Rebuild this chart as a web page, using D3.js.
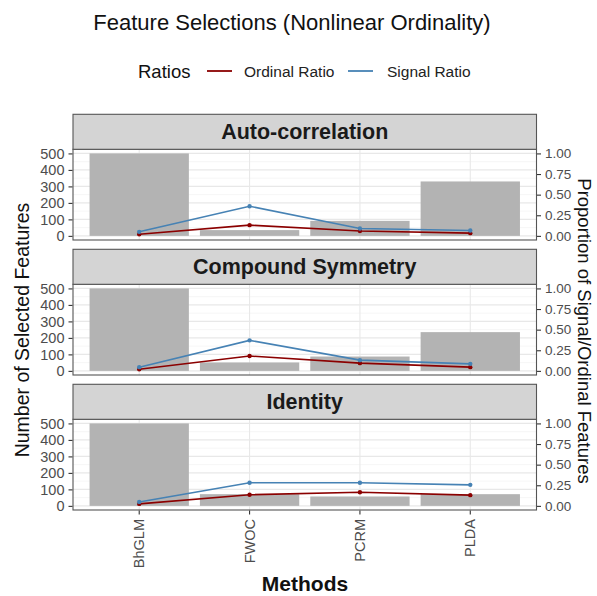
<!DOCTYPE html>
<html>
<head>
<meta charset="utf-8">
<script src="https://cdn.jsdelivr.net/npm/d3@7"></script>
<style>
  html, body { margin: 0; padding: 0; background: #fff; }
  svg { display: block; font-family: "Liberation Sans", Arial, Helvetica, sans-serif; }
</style>
</head>
<body>
<svg id="chart" width="597" height="596"></svg>
<script>
// Methods compared on the x axis
const methods = ["BhGLM", "FWOC", "PCRM", "PLDA"];
// Covariance structures, one facet each
const structures = ["Auto-correlation", "Compound Symmetry", "Identity"];
// Number of selected features (bars), per structure
const selectedCounts = [
  [500, 35, 91, 330],
  [500, 51, 87, 235],
  [500, 71, 57, 71]
];
// Proportion of signal features among the selected ones
const signalRatio = [
  [0.049, 0.36, 0.09, 0.065],
  [0.045, 0.37, 0.13, 0.085],
  [0.048, 0.28, 0.28, 0.255]
];
// Proportion of ordinal features among the selected ones
const ordinalRatio = [
  [0.02, 0.13, 0.06, 0.033],
  [0.02, 0.18, 0.094, 0.045],
  [0.024, 0.135, 0.165, 0.13]
];
const countTicks = [0, 100, 200, 300, 400, 500];
const countMinorTicks = [50, 150, 250, 350, 450];
const ratioTicks = [0, 0.25, 0.5, 0.75, 1];
const seriesNames = ["Ordinal Ratio", "Signal Ratio"];
const seriesColors = ["#8b0000", "#4682b4"];
const ratioScaleFactor = 500; // secondary axis: ratio * 500 on the count axis

const svg = d3.select("#chart");

const panelLeft = 73, panelRight = 536.5;
const plotHeight = 90.7, stripHeight = 35, facetStep = 135, firstPlotTop = 149.3;
const tickFont = 14.5, rightTickFont = 13.5;

const x = d3.scaleBand()
  .domain(methods)
  .range([panelLeft, panelRight])
  .paddingInner(0.1)
  .paddingOuter(0.15);
const xc = m => x(m) + x.bandwidth() / 2;

// Title
svg.append("text")
  .attr("x", 292).attr("y", 30)
  .attr("text-anchor", "middle")
  .attr("font-size", 22).attr("fill", "#111")
  .text("Feature Selections (Nonlinear Ordinality)");

// Legend
const legend = svg.append("g");
legend.append("text")
  .attr("x", 138).attr("y", 77.5)
  .attr("font-size", 18.5).attr("fill", "#111")
  .text("Ratios");
const legendItems = [
  { lx: 207, tx: 244 },
  { lx: 348, tx: 387 }
];
seriesNames.forEach((name, i) => {
  legend.append("line")
    .attr("x1", legendItems[i].lx).attr("x2", legendItems[i].lx + 25)
    .attr("y1", 71).attr("y2", 71)
    .attr("stroke", seriesColors[i]).attr("stroke-width", 1.8);
  legend.append("text")
    .attr("x", legendItems[i].tx).attr("y", 76.5)
    .attr("font-size", 15.5).attr("fill", "#222")
    .text(name);
});

structures.forEach((structure, si) => {
  const top = firstPlotTop + si * facetStep;
  const bottom = top + plotHeight;
  const y = d3.scaleLinear().domain([-25, 525]).range([bottom, top]);
  const g = svg.append("g");

  // panel background + grid
  g.append("rect")
    .attr("x", panelLeft).attr("y", top)
    .attr("width", panelRight - panelLeft).attr("height", plotHeight)
    .attr("fill", "#fff");
  g.selectAll(".minor").data(countMinorTicks).join("line")
    .attr("x1", panelLeft).attr("x2", panelRight)
    .attr("y1", d => y(d)).attr("y2", d => y(d))
    .attr("stroke", "#f0f0f0").attr("stroke-width", 0.6);
  g.selectAll(".major").data(countTicks).join("line")
    .attr("x1", panelLeft).attr("x2", panelRight)
    .attr("y1", d => y(d)).attr("y2", d => y(d))
    .attr("stroke", "#e8e8e8").attr("stroke-width", 1.1);
  g.selectAll(".vgrid").data(methods).join("line")
    .attr("x1", d => xc(d)).attr("x2", d => xc(d))
    .attr("y1", top).attr("y2", bottom)
    .attr("stroke", "#e8e8e8").attr("stroke-width", 1.1);

  // bars
  g.selectAll(".bar").data(methods).join("rect")
    .attr("x", d => x(d))
    .attr("width", x.bandwidth())
    .attr("y", (d, i) => y(selectedCounts[si][i]))
    .attr("height", (d, i) => y(0) - y(selectedCounts[si][i]))
    .attr("fill", "#b3b3b3");

  // ratio lines (secondary axis)
  [ordinalRatio, signalRatio].forEach((series, k) => {
    const pts = methods.map((m, i) => [xc(m), y(series[si][i] * ratioScaleFactor)]);
    g.append("path")
      .attr("d", d3.line()(pts))
      .attr("fill", "none")
      .attr("stroke", seriesColors[k]).attr("stroke-width", 1.6);
    g.selectAll(null).data(pts).join("circle")
      .attr("cx", d => d[0]).attr("cy", d => d[1])
      .attr("r", 2.2).attr("fill", seriesColors[k]);
  });

  // panel border
  g.append("rect")
    .attr("x", panelLeft).attr("y", top)
    .attr("width", panelRight - panelLeft).attr("height", plotHeight)
    .attr("fill", "none").attr("stroke", "#555").attr("stroke-width", 1.1);

  // strip
  g.append("rect")
    .attr("x", panelLeft).attr("y", top - stripHeight)
    .attr("width", panelRight - panelLeft).attr("height", stripHeight)
    .attr("fill", "#d4d4d4").attr("stroke", "#555").attr("stroke-width", 1.1);
  g.append("text")
    .attr("x", (panelLeft + panelRight) / 2).attr("y", top - stripHeight / 2 + 7.5)
    .attr("text-anchor", "middle")
    .attr("font-size", 21.5).attr("font-weight", "bold").attr("fill", "#1a1a1a")
    .text(structure);

  // left axis
  const leftAxis = d3.axisLeft(y).tickValues(countTicks).tickSize(4).tickPadding(4);
  const la = g.append("g").attr("transform", `translate(${panelLeft - 0.5},0)`).call(leftAxis);
  la.select(".domain").remove();
  la.selectAll(".tick line").attr("stroke", "#333").attr("stroke-width", 1.1);
  la.selectAll(".tick text").attr("font-size", tickFont).attr("fill", "#4d4d4d")
    .attr("font-family", "Liberation Sans, Arial, sans-serif");

  // right axis (ratio)
  const yr = d3.scaleLinear().domain([-25 / ratioScaleFactor, 525 / ratioScaleFactor]).range([bottom, top]);
  const rightAxis = d3.axisRight(yr).tickValues(ratioTicks).tickFormat(d3.format(".2f")).tickSize(4).tickPadding(4);
  const ra = g.append("g").attr("transform", `translate(${panelRight + 0.5},0)`).call(rightAxis);
  ra.select(".domain").remove();
  ra.selectAll(".tick line").attr("stroke", "#333").attr("stroke-width", 1.1);
  ra.selectAll(".tick text").attr("font-size", rightTickFont).attr("fill", "#4d4d4d")
    .attr("font-family", "Liberation Sans, Arial, sans-serif");

  // bottom axis on the last facet
  if (si === structures.length - 1) {
    const bottomAxis = d3.axisBottom(x).tickSize(4).tickPadding(3);
    const ba = g.append("g").attr("transform", `translate(0,${bottom + 0.5})`).call(bottomAxis);
    ba.select(".domain").remove();
    ba.selectAll(".tick line").attr("stroke", "#333").attr("stroke-width", 1.1);
    ba.selectAll(".tick text")
      .attr("font-size", tickFont).attr("fill", "#4d4d4d")
      .attr("font-family", "Liberation Sans, Arial, sans-serif")
      .attr("transform", "rotate(-90)")
      .attr("text-anchor", "end")
      .attr("x", -8.5).attr("y", 0).attr("dy", "0.35em");
  }
});

// Axis titles
svg.append("text")
  .attr("transform", "translate(29,330) rotate(-90)")
  .attr("text-anchor", "middle")
  .attr("font-size", 19.5).attr("fill", "#111")
  .text("Number of Selected Features");
svg.append("text")
  .attr("transform", "translate(578,331) rotate(90)")
  .attr("text-anchor", "middle")
  .attr("font-size", 18.5).attr("fill", "#111")
  .text("Proportion of Signal/Ordinal Features");
svg.append("text")
  .attr("x", 305).attr("y", 591)
  .attr("text-anchor", "middle")
  .attr("font-size", 21).attr("font-weight", "bold").attr("fill", "#111")
  .text("Methods");
</script>
</body>
</html>
